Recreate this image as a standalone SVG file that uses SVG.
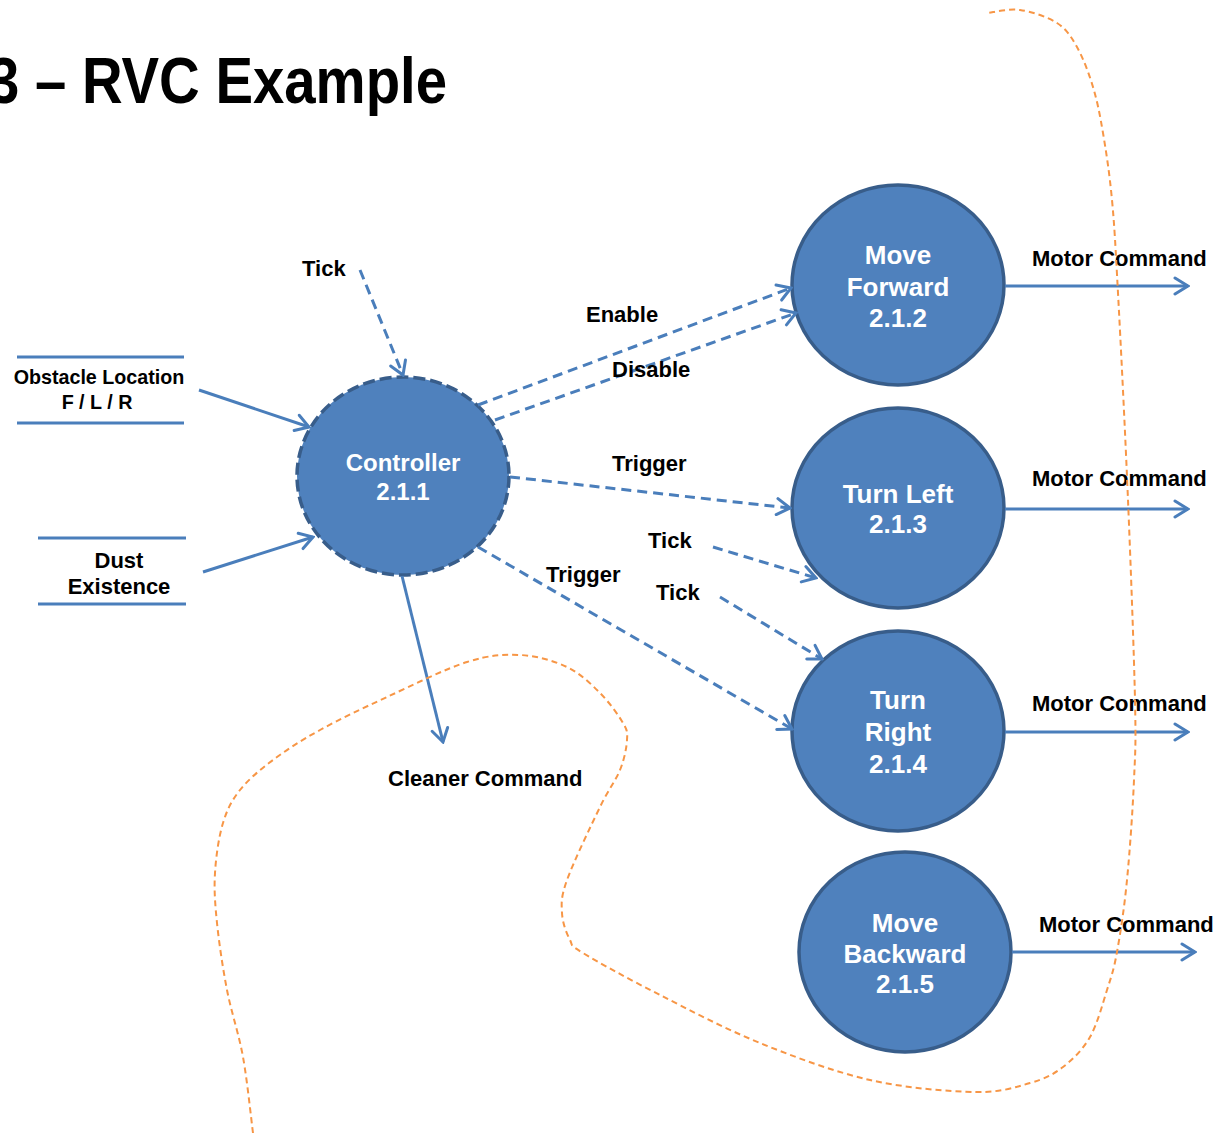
<svg xmlns="http://www.w3.org/2000/svg" width="1218" height="1135" viewBox="0 0 1218 1135">
<style>
.t{font-family:"Liberation Sans",Arial,sans-serif;font-weight:bold;fill:#000}
.nt{font-family:"Liberation Sans",Arial,sans-serif;font-weight:bold;fill:#fff;text-anchor:middle}
.node{fill:#4F81BD;stroke:#385D8A;stroke-width:3.5}
.ctrl{stroke-dasharray:12 5}
.c{fill:none;stroke:#4A7EBB;stroke-width:3;marker-end:url(#arr)}
.d{stroke-dasharray:10 6}
.store{stroke:#4A7EBB;stroke-width:3}
.bound{fill:none;stroke:#F79646;stroke-width:2;stroke-dasharray:6 4}
</style>
<defs>
<marker id="arr" markerUnits="userSpaceOnUse" viewBox="-16 -11 18 22" markerWidth="18" markerHeight="22" refX="0" refY="0" orient="auto">
<path d="M-13,-8 L0,0 L-13,8" fill="none" stroke="#4A7EBB" stroke-width="3" stroke-dasharray="none" stroke-linecap="round"/>
</marker>
</defs>
<rect width="1218" height="1135" fill="#fff"/>
<text class="t" x="-12" y="103" font-size="64" textLength="459" lengthAdjust="spacingAndGlyphs">3 – RVC Example</text>

<g id="store-obstacle">
<line class="store" x1="17" y1="357" x2="184" y2="357"/>
<line class="store" x1="17" y1="423" x2="184" y2="423"/>
<text class="t" x="99" y="384" font-size="19.7" text-anchor="middle">Obstacle Location</text>
<text class="t" x="97" y="409" font-size="19.7" text-anchor="middle">F / L / R</text>
</g>
<g id="store-dust">
<line class="store" x1="38" y1="538" x2="186" y2="538"/>
<line class="store" x1="38" y1="604" x2="186" y2="604"/>
<text class="t" x="119" y="568" font-size="22" text-anchor="middle">Dust</text>
<text class="t" x="119" y="594" font-size="22" text-anchor="middle">Existence</text>
</g>

<g id="controller">
<ellipse class="node ctrl" cx="403" cy="476" rx="106" ry="99"/>
<text class="nt" x="403" y="471" font-size="24">Controller</text>
<text class="nt" x="403" y="500" font-size="24">2.1.1</text>
</g>
<g id="move-forward">
<ellipse class="node" cx="898" cy="285" rx="106" ry="100"/>
<text class="nt" x="898" y="264" font-size="26">Move</text>
<text class="nt" x="898" y="296" font-size="26">Forward</text>
<text class="nt" x="898" y="327" font-size="26">2.1.2</text>
</g>
<g id="turn-left">
<ellipse class="node" cx="898" cy="508" rx="106" ry="100"/>
<text class="nt" x="898" y="503" font-size="26">Turn Left</text>
<text class="nt" x="898" y="533" font-size="26">2.1.3</text>
</g>
<g id="turn-right">
<ellipse class="node" cx="898" cy="731" rx="106" ry="100"/>
<text class="nt" x="898" y="709" font-size="26">Turn</text>
<text class="nt" x="898" y="741" font-size="26">Right</text>
<text class="nt" x="898" y="773" font-size="26">2.1.4</text>
</g>
<g id="move-backward">
<ellipse class="node" cx="905" cy="952" rx="106" ry="100"/>
<text class="nt" x="905" y="932" font-size="26">Move</text>
<text class="nt" x="905" y="963" font-size="26">Backward</text>
<text class="nt" x="905" y="993" font-size="26">2.1.5</text>
</g>

<g id="connectors">
<path class="c d" d="M360,270 L403,375"/>
<path class="c" d="M199,390 L309,427"/>
<path class="c" d="M203,572 L313,537"/>
<path class="c d" d="M478,405 L791,288"/>
<path class="c d" d="M495,420 L796,313"/>
<path class="c d" d="M510,477 L790,508"/>
<path class="c d" d="M478,547 L792,729"/>
<path class="c d" d="M713,547 L816,578"/>
<path class="c d" d="M720,597 L822,659"/>
<path class="c" d="M402,576 L443,742"/>
<path class="c" d="M1005,286 L1188,286"/>
<path class="c" d="M1005,509 L1188,509"/>
<path class="c" d="M1005,732 L1188,732"/>
<path class="c" d="M1012,952 L1195,952"/>
</g>

<g id="labels">
<text class="t" x="302" y="276" font-size="22">Tick</text>
<text class="t" x="586" y="322" font-size="22">Enable</text>
<text class="t" x="612" y="377" font-size="22">Disable</text>
<text class="t" x="612" y="471" font-size="22">Trigger</text>
<text class="t" x="648" y="548" font-size="22">Tick</text>
<text class="t" x="546" y="582" font-size="22">Trigger</text>
<text class="t" x="656" y="600" font-size="22">Tick</text>
<text class="t" x="388" y="786" font-size="22">Cleaner Command</text>
<text class="t" x="1032" y="266" font-size="22">Motor Command</text>
<text class="t" x="1032" y="486" font-size="22">Motor Command</text>
<text class="t" x="1032" y="711" font-size="22">Motor Command</text>
<text class="t" x="1039" y="932" font-size="22">Motor Command</text>
</g>

<path id="boundary" class="bound" d="M253,1133 C251.3,1120.3 247.3,1080.8 243,1057 C238.7,1033.2 231.3,1012.3 227,990 C222.7,967.7 219,942.5 217,923 C215,903.5 214,889.7 215,873 C216,856.3 218.8,836.8 223,823 C227.2,809.2 231.7,800.5 240,790 C248.3,779.5 259.7,770 273,760 C286.3,750 301,740.5 320,730 C339,719.5 362.5,708.3 387,697 C411.5,685.7 444.8,669 467,662 C489.2,655 503.3,654.2 520,655 C536.7,655.8 553.7,660.7 567,667 C580.3,673.3 590.7,683.7 600,693 C609.3,702.3 618.5,715.2 623,723 C627.5,730.8 627.5,732.2 627,740 C626.5,747.8 624.5,758.8 620,770 C615.5,781.2 608.8,788.7 600,807 C591.2,825.3 573.3,862.3 567,880 C560.7,897.7 561.5,903 562,913 C562.5,923 566.5,933.3 570,940 C573.5,946.7 568,943.8 583,953 C598,962.2 630.5,980 660,995 C689.5,1010 725,1028.8 760,1043 C795,1057.2 834.2,1071.8 870,1080 C905.8,1088.2 948.3,1091.5 975,1092 C1001.7,1092.5 1015.3,1087.2 1030,1083 C1044.7,1078.8 1053,1074.7 1063,1067 C1073,1059.3 1082.7,1049.8 1090,1037 C1097.3,1024.2 1102.5,1004.2 1107,990 C1111.5,975.8 1113.7,970.3 1117,952 C1120.3,933.7 1124.2,908.7 1127,880 C1129.8,851.3 1132.7,810 1134,780 C1135.3,750 1136,746.7 1135,700 C1134,653.3 1130.8,567.8 1128,500 C1125.2,432.2 1120.7,343 1118,293 C1115.3,243 1114.5,226.7 1112,200 C1109.5,173.3 1106.2,151.8 1103,133 C1099.8,114.2 1097.3,101.3 1093,87 C1088.7,72.7 1083,57.7 1077,47 C1071,36.3 1066.5,29.2 1057,23 C1047.5,16.8 1031.7,11.7 1020,10 C1008.3,8.3 992.5,12.5 987,13"/>
</svg>
